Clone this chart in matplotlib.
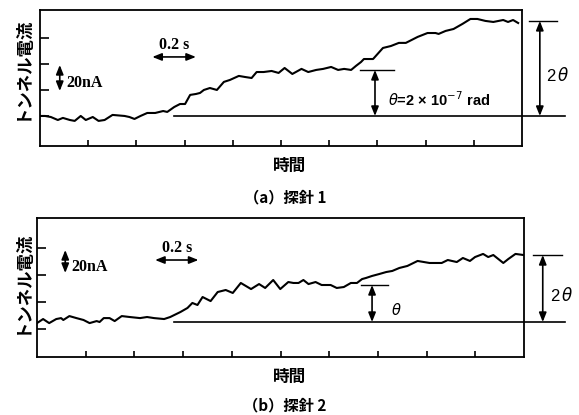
import matplotlib.pyplot as plt

plt.rcParams['font.family'] = ['Noto Sans CJK JP', 'DejaVu Sans']
plt.rcParams['mathtext.fontset'] = 'dejavusans'

# 探針1 (time s, tunnel current nA)
t1 = [0.00, 0.021, 0.045, 0.074, 0.095, 0.124, 0.144, 0.169, 0.190, 0.219,
      0.243, 0.268, 0.301, 0.351, 0.371, 0.392, 0.417, 0.445, 0.478, 0.511,
      0.528, 0.557, 0.581, 0.602, 0.623, 0.647, 0.664, 0.680, 0.705, 0.734,
      0.763, 0.788, 0.825, 0.850, 0.878, 0.899, 0.928, 0.961, 0.990, 1.015,
      1.047, 1.085, 1.113, 1.146, 1.175, 1.208, 1.237, 1.262, 1.291, 1.311,
      1.332, 1.344, 1.382, 1.423, 1.456, 1.489, 1.518, 1.567, 1.608, 1.641,
      1.654, 1.683, 1.716, 1.753, 1.786, 1.815, 1.848, 1.881, 1.922, 1.942,
      1.963, 1.984]
i1 = [0.0, 0.0, -0.8, -3.1, -1.5, -3.1, -3.8, 0.0, -3.1, -0.8,
      -3.8, -3.1, 0.8, 0.0, -0.8, -2.3, 0.0, 2.3, 2.3, 3.8,
      3.1, 6.9, 9.2, 9.2, 16.2, 16.9, 17.7, 20.0, 21.5, 20.0,
      26.2, 27.7, 30.8, 30.0, 29.2, 33.8, 33.8, 34.6, 33.1, 36.9,
      32.3, 36.2, 33.8, 35.4, 36.2, 37.7, 35.4, 36.2, 35.4, 38.5,
      41.5, 43.8, 43.8, 52.3, 53.8, 56.2, 56.2, 60.8, 63.8, 63.8,
      63.1, 65.4, 66.9, 70.8, 74.6, 74.6, 73.1, 72.3, 73.8, 72.3,
      73.8, 71.5]

# 探針2
t2 = [0.00, 0.025, 0.050, 0.079, 0.099, 0.108, 0.133, 0.162, 0.191, 0.216,
      0.245, 0.257, 0.274, 0.298, 0.319, 0.348, 0.381, 0.423, 0.452, 0.481,
      0.522, 0.547, 0.589, 0.618, 0.638, 0.659, 0.680, 0.713, 0.742, 0.775,
      0.804, 0.837, 0.879, 0.912, 0.937, 0.970, 0.999, 1.032, 1.053, 1.074,
      1.094, 1.115, 1.144, 1.169, 1.206, 1.231, 1.260, 1.289, 1.314, 1.335,
      1.351, 1.376, 1.405, 1.434, 1.459, 1.488, 1.521, 1.563, 1.612, 1.662,
      1.687, 1.724, 1.749, 1.778, 1.799, 1.832, 1.853, 1.874, 1.915, 1.936,
      1.965, 1.998]
i2 = [4.4, 7.4, 4.4, 7.4, 8.1, 6.7, 9.6, 8.1, 6.7, 4.4,
      5.9, 5.2, 8.1, 8.1, 5.9, 9.6, 8.9, 8.1, 8.9, 8.1,
      7.4, 8.9, 12.6, 15.6, 19.3, 17.8, 23.7, 20.7, 27.4, 28.9,
      26.7, 34.1, 29.6, 33.3, 30.4, 36.3, 29.6, 34.8, 34.1, 34.1,
      36.3, 33.3, 34.8, 32.6, 32.6, 30.4, 31.1, 34.1, 34.1, 37.0,
      37.8, 39.3, 40.7, 42.2, 43.0, 45.2, 46.7, 50.4, 48.9, 48.9,
      51.1, 49.6, 52.6, 50.4, 53.3, 55.6, 53.3, 54.8, 48.9, 51.9,
      55.6, 54.8]

time_ticks = [0.2, 0.4, 0.6, 0.8, 1.0, 1.2, 1.4, 1.6, 1.8]
current_ticks = [0, 20, 40, 60]

# reference levels (nA)
base1, theta1, two_theta1 = 0.0, 35.4, 73.1
base2, theta2, two_theta2 = 5.2, 32.6, 54.8

W, H = 579, 415
fig = plt.figure(figsize=(W / 100, H / 100), dpi=100)

arrow = dict(arrowstyle='<|-|>,head_length=0.55,head_width=0.22',
             color='black', lw=1.2, shrinkA=0, shrinkB=0, mutation_scale=10)
serif = ['Liberation Serif', 'DejaVu Serif']


def panel(rect, ylim, t, cur, base, th, th2, m):
    ax = fig.add_axes([rect[0] / W, 1 - rect[3] / H,
                       (rect[2] - rect[0]) / W, (rect[3] - rect[1]) / H])
    ax.plot(t, cur, color='black', lw=1.5)
    ax.set_xlim(0, 2.0)
    ax.set_ylim(*ylim)
    ax.set_xticks(time_ticks)
    ax.set_yticks(current_ticks)
    ax.tick_params(axis='x', direction='in', length=4.5, width=1.2,
                   labelbottom=False)
    ax.tick_params(axis='y', direction='in', length=6.5, width=1.2,
                   labelleft=False)
    for s in ax.spines.values():
        s.set_linewidth(1.3)

    # baseline
    ax.plot([m['b0'], m['b1']], [base, base], color='black', lw=1.2,
            clip_on=False)
    # theta
    ax.plot(m['th_x'], [th, th], color='black', lw=1.0, clip_on=False)
    ax.annotate('', xy=(m['th_a'], base), xytext=(m['th_a'], th),
                arrowprops=arrow, annotation_clip=False)
    ax.text(m['th_tx'], m['th_ty'], m['th_label'], fontsize=10.5,
            family=['Liberation Sans', 'DejaVu Sans'], fontweight='bold',
            va='center', ha='left')
    # 2 theta
    ax.plot(m['th2_x'], [th2, th2], color='black', lw=1.0, clip_on=False)
    ax.annotate('', xy=(m['th2_a'], base), xytext=(m['th2_a'], th2),
                arrowprops=arrow, annotation_clip=False)
    ax.text(m['th2_tx'], m['th2_ty'], r'2$\,\theta$', fontsize=12,
            family=['Liberation Sans', 'DejaVu Sans'], va='center',
            ha='left', clip_on=False)
    # 0.2 s scale
    ax.annotate('', xy=(m['s_x'][0], m['s_y']), xytext=(m['s_x'][1], m['s_y']),
                arrowprops=arrow)
    ax.text(sum(m['s_x']) / 2, m['s_ty'], '0.2 s', fontsize=11.5,
            family=serif, fontweight='bold', ha='center', va='center')
    # 20 nA scale
    ax.annotate('', xy=(m['n_x'], m['n_y'][0]), xytext=(m['n_x'], m['n_y'][1]),
                arrowprops=arrow)
    ax.text(m['n_tx'], m['n_ty'], '20nA', fontsize=11.5, family=serif,
            fontweight='bold', ha='left', va='center')
    return ax


panel((40, 10, 522, 146), (-23.1, 81.5), t1, i1, base1, theta1, two_theta1,
      dict(b0=0.557, b1=2.177, th_x=[1.328, 1.468], th_a=1.390,
           th_tx=1.445, th_ty=12.3, th_label=r'$\theta$=2 × 10$^{-7}$ rad',
           th2_x=[2.029, 2.144], th2_a=2.074, th2_tx=2.098, th2_ty=31.5,
           s_x=[0.466, 0.647], s_y=45.4, s_ty=54.6,
           n_x=0.082, n_y=[39.2, 19.2], n_tx=0.110, n_ty=25.4))

panel((37, 218, 524, 357), (-20.7, 82.2), t2, i2, base2, theta2, two_theta2,
      dict(b0=0.564, b1=2.168, th_x=[1.331, 1.442], th_a=1.376,
           th_tx=1.455, th_ty=14.1, th_label=r'$\theta$',
           th2_x=[2.035, 2.155], th2_a=2.077, th2_tx=2.105, th2_ty=25.2,
           s_x=[0.485, 0.663], s_y=51.1, s_ty=60.0,
           n_x=0.116, n_y=[58.5, 41.5], n_tx=0.140, n_ty=45.9))

for y_lab, y_time, y_cap, cap in [(68, 166, 197, '（a）探針 1'),
                                  (282, 377, 405, '（b）探針 2')]:
    fig.text(22 / W, 1 - y_lab / H, 'トンネル電流', rotation=90, fontsize=12.5,
             fontweight='bold', ha='center', va='center')
    fig.text(290 / W, 1 - y_time / H, '時間', fontsize=12, fontweight='bold',
             ha='center', va='center')
    fig.text(285 / W, 1 - y_cap / H, cap, fontsize=11, fontweight='bold',
             ha='center', va='center')

fig.savefig('out.png', dpi=100)
